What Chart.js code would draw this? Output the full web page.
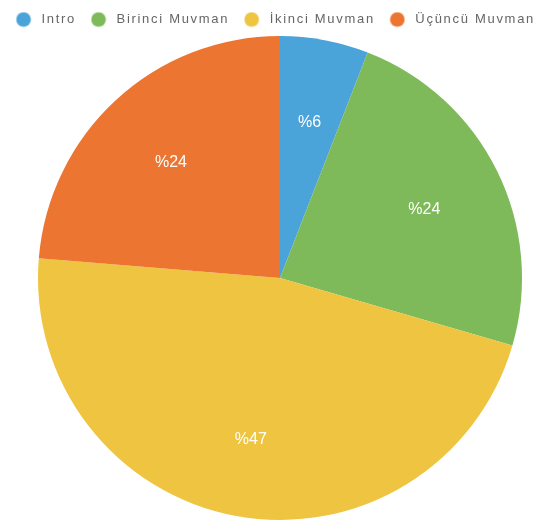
<!DOCTYPE html>
<html>
<head>
<meta charset="utf-8">
<script src="https://cdn.jsdelivr.net/npm/chart.js@4/dist/chart.umd.min.js"></script>
<style>
    html, body { margin: 0; padding: 0; background: #fff; }
    #wrap { width: 547px; height: 520px; }
</style>
</head>
<body>
<div id="wrap"><canvas id="chart"></canvas></div>
<script>
// share of each part (percent)
var labels = ["Intro", "Birinci Muvman", "İkinci Muvman", "Üçüncü Muvman"];
var values = [5.9, 23.6, 46.8, 23.7];
var colors = ["#4aa3d9", "#7fba5a", "#efc441", "#ec7532"];

var legendSpacing = "1.7px";
var pieShift = 13; // pie sits a little right of the page centre

// small round markers for the legend
function dot(color) {
    var c = document.createElement("canvas");
    c.width = 16;
    c.height = 16;
    var g = c.getContext("2d");
    g.fillStyle = color;
    g.beginPath();
    g.arc(8, 8, 7.3, 0, Math.PI * 2);
    g.fill();
    return c;
}
var dots = colors.map(dot);

// legend text in the reference is spaced out a bit
var trackText = {
    id: "trackText",
    beforeLayout: function(chart) { chart.ctx.letterSpacing = legendSpacing; },
    afterLayout: function(chart) {
        // legend keeps the full width, only the pie moves over
        chart.chartArea.left += pieShift;
        chart.chartArea.width -= pieShift;
    },
    beforeDraw: function(chart) { chart.ctx.letterSpacing = legendSpacing; }
};

// draws "%NN" in the middle of each slice
var sliceLabels = {
    id: "sliceLabels",
    afterDatasetsDraw: function(chart) {
        var ctx = chart.ctx;
        var meta = chart.getDatasetMeta(0);
        var total = values.reduce(function(a, b) { return a + b; }, 0);
        ctx.save();
        ctx.letterSpacing = "0px";
        ctx.fillStyle = "#fff";
        ctx.font = "16px 'Liberation Sans', Arial, sans-serif";
        ctx.textAlign = "center";
        ctx.textBaseline = "middle";
        meta.data.forEach(function(arc, i) {
            var p = arc.getProps(["x", "y", "startAngle", "endAngle", "outerRadius"], true);
            var mid = (p.startAngle + p.endAngle) / 2;
            var r = p.outerRadius * 0.665;
            var txt = "%" + Math.round(values[i] / total * 100);
            // +3: text sits a touch lower than the exact centre in the original
            ctx.fillText(txt, p.x + Math.cos(mid) * r, p.y + Math.sin(mid) * r + 3);
        });
        ctx.restore();
    }
};

var defaultLabels = Chart.controllers.pie.overrides.plugins.legend.labels.generateLabels;

new Chart(document.getElementById("chart"), {
    type: "pie",
    data: {
        labels: labels,
        datasets: [{
            data: values,
            backgroundColor: colors,
            borderWidth: 0
        }]
    },
    options: {
        responsive: true,
        maintainAspectRatio: false,
        animation: false,
        layout: { padding: { left: 0, right: 0, top: 2, bottom: 0 } },
        plugins: {
            tooltip: { enabled: false },
            legend: {
                position: "top",
                labels: {
                    usePointStyle: true,
                    pointStyleWidth: 23,
                    boxHeight: 13,
                    padding: 11,
                    color: "#666",
                    font: { family: "'Liberation Sans', Arial, sans-serif", size: 13 },
                    generateLabels: function(chart) {
                        var items = defaultLabels(chart);
                        items.forEach(function(it, i) { it.pointStyle = dots[i]; });
                        return items;
                    }
                }
            }
        }
    },
    plugins: [trackText, sliceLabels]
});
</script>
</body>
</html>
